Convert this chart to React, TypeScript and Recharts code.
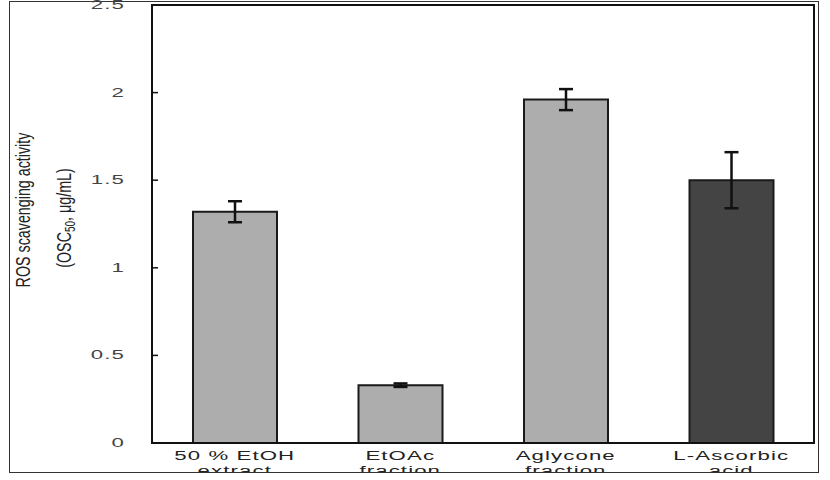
import { BarChart, Bar, XAxis, YAxis, ErrorBar, Cell, Label } from "recharts";

const categories = ["50 % EtOH extract", "EtOAc fraction", "Aglycone fraction", "L-Ascorbic acid"];
const values = [1.32, 0.33, 1.96, 1.5];
const errors = [0.06, 0.01, 0.06, 0.16];
const barFills = ["#adadad", "#adadad", "#adadad", "#444444"];
const yTicks = [0, 0.5, 1, 1.5, 2, 2.5];

const FONT = "'Liberation Sans', Arial, sans-serif";
const PLOT_LEFT = 152;
const STRETCH = 1.85;

const data = categories.map((name, i) => ({ name, value: values[i], err: errors[i] }));

function YTick(props: any) {
  const { y, payload } = props;
  return (
    <g>
      <line x1={PLOT_LEFT} x2={PLOT_LEFT + 6} y1={y} y2={y} stroke="#111" strokeWidth={1.5} />
      <text
        transform={`translate(${PLOT_LEFT - 27},${y}) scale(${STRETCH},1)`}
        textAnchor="end"
        dy={4}
        fontSize={12}
        letterSpacing={0.6}
        fill="#444"
        fontFamily={FONT}
      >
        {payload.value}
      </text>
    </g>
  );
}

function XTick(props: any) {
  const { x, payload } = props;
  const s = String(payload.value);
  const k = s.lastIndexOf(" ");
  const lines = [s.slice(0, k), s.slice(k + 1)];
  return (
    <g>
      {lines.map((t, i) => (
        <text
          key={i}
          transform={`translate(${x},${460 + i * 14.5}) scale(${STRETCH},1)`}
          textAnchor="middle"
          fontSize={12}
          letterSpacing={0.6}
          fill="#222"
          fontFamily={FONT}
        >
          {t}
        </text>
      ))}
    </g>
  );
}

// two-line rotated axis title, stretched sideways like the source figure
function YLabel() {
  return (
    <g fill="#222" fontFamily={FONT} fontSize={14.3}>
      <text transform="translate(23,210) scale(1.43,1) rotate(-90)" textAnchor="middle" dy="0.35em">
        ROS scavenging activity
      </text>
      <text transform="translate(64,218) scale(1.43,1) rotate(-90)" textAnchor="middle" dy="0.35em">
        (OSC
        <tspan fontSize={10} dy={3}>50</tspan>
        <tspan dy={-3}>, μg/mL)</tspan>
      </text>
    </g>
  );
}

export default function App() {
  return (
    <div style={{ position: "absolute", left: 0, top: 0, width: 830, height: 480, background: "#fff" }}>
      <div
        style={{
          position: "absolute",
          left: 9,
          top: 1,
          width: 810,
          height: 472,
          border: "1.5px solid #333",
          boxSizing: "border-box",
        }}
      />
      <div style={{ position: "absolute", left: 0, top: 0, width: 830, height: 472, overflow: "hidden" }}>
        <BarChart width={830} height={472} data={data} margin={{ top: 5, right: 16, left: 0, bottom: 0 }}>
          <XAxis
            dataKey="name"
            height={29}
            tick={<XTick />}
            tickLine={false}
            axisLine={false}
            interval={0}
          />
          <YAxis
            width={152}
            domain={[0, 2.5]}
            ticks={yTicks}
            tick={<YTick />}
            tickLine={false}
            axisLine={false}
            interval={0}
          >
            <Label content={() => <YLabel />} />
          </YAxis>
          <Bar dataKey="value" barSize={84} stroke="#1a1a1a" strokeWidth={2} isAnimationActive={false}>
            {data.map((_, i) => (
              <Cell key={i} fill={barFills[i]} />
            ))}
            <ErrorBar dataKey="err" width={7} strokeWidth={2.5} stroke="#111" isAnimationActive={false} />
          </Bar>
        </BarChart>
      </div>
      <div
        style={{
          position: "absolute",
          left: 151,
          top: 4,
          width: 664,
          height: 440,
          border: "2px solid #111",
          boxSizing: "border-box",
          pointerEvents: "none",
        }}
      />
    </div>
  );
}
